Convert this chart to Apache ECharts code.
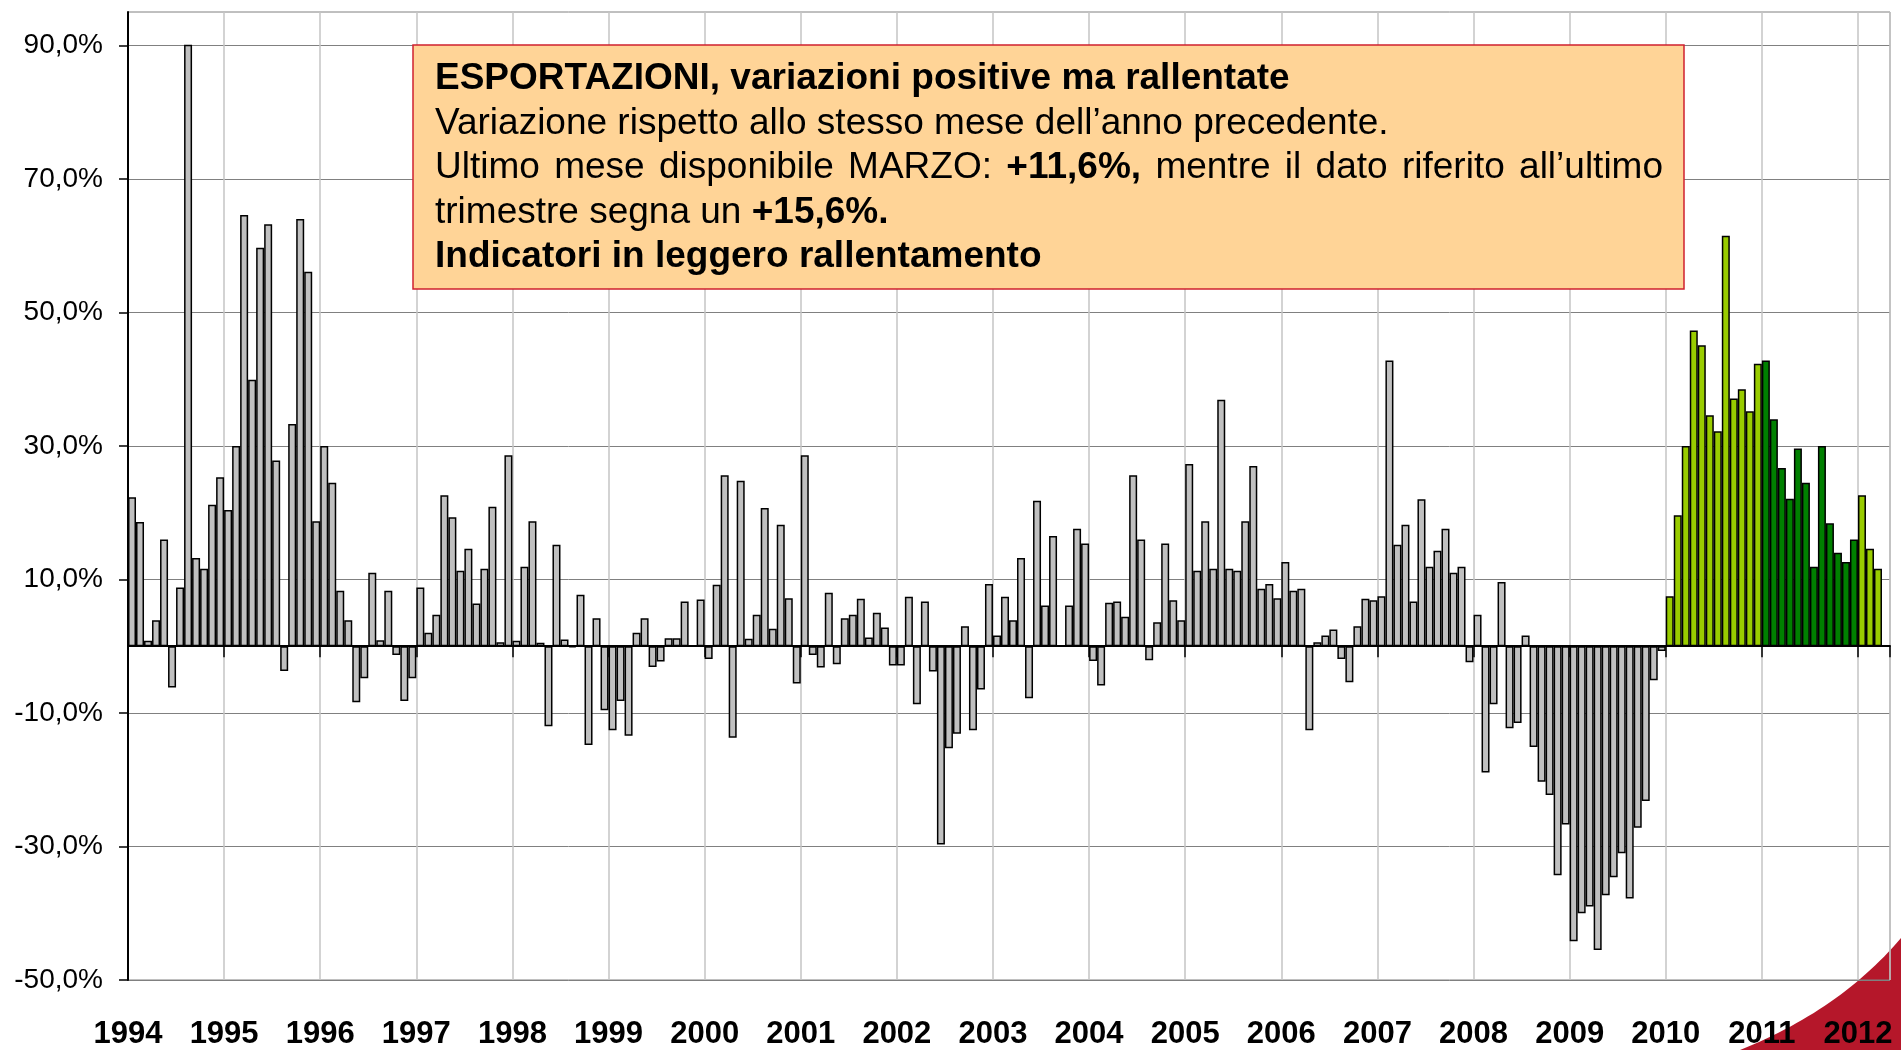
<!DOCTYPE html>
<html><head><meta charset="utf-8">
<script src="https://cdn.jsdelivr.net/npm/echarts@6/dist/echarts.min.js"></script>
<style>html,body{margin:0;padding:0;background:#fff}#c{width:1901px;height:1050px}</style>
</head><body><div id="c"></div>
<script>
// ---- DATA ----
const yearLabels = ['1994','1995','1996','1997','1998','1999','2000','2001','2002','2003','2004','2005','2006','2007','2008','2009','2010','2011','2012'];
const months = ['gen','feb','mar','apr','mag','giu','lug','ago','set','ott','nov','dic'];
const y1994 = [22.3, 18.6, 0.8, 3.9, 16.0, -6.2, 8.8, 90.1, 13.2, 11.6, 21.2, 25.3];
const y1995 = [20.4, 30.0, 64.6, 39.9, 59.7, 63.2, 27.8, -3.7, 33.3, 64.0, 56.1, 18.7];
const y1996 = [30.0, 24.5, 8.3, 3.9, -8.4, -4.8, 11.0, 0.9, 8.3, -1.3, -8.2, -4.8];
const y1997 = [8.8, 2.0, 4.7, 22.6, 19.3, 11.3, 14.6, 6.4, 11.6, 20.9, 0.6, 28.6];
const y1998 = [0.8, 11.9, 18.7, 0.5, -12.0, 15.2, 1.0, -0.2, 7.7, -14.8, 4.2, -9.6];
const y1999 = [-12.6, -8.2, -13.4, 2.0, 4.2, -3.1, -2.3, 1.2, 1.2, 6.7, 0.0, 7.0];
const y2000 = [-1.9, 9.2, 25.6, -13.7, 24.8, 1.1, 4.7, 20.7, 2.6, 18.2, 7.2, -5.6];
const y2001 = [28.6, -1.3, -3.2, 8.0, -2.7, 4.2, 4.7, 7.1, 1.3, 5.0, 2.8, -2.9];
const y2002 = [-2.9, 7.4, -8.7, 6.7, -3.8, -29.7, -15.3, -13.1, 3.0, -12.6, -6.5, 9.3];
const y2003 = [1.6, 7.4, 3.9, 13.2, -7.8, 21.8, 6.1, 16.5, 0.0, 6.1, 17.6, 15.4];
const y2004 = [-2.2, -5.9, 6.5, 6.7, 4.4, 25.6, 16.0, -2.1, 3.6, 15.4, 6.9, 3.9];
const y2005 = [27.3, 11.3, 18.7, 11.6, 36.9, 11.6, 11.3, 18.7, 27.0, 8.6, 9.3, 7.2];
const y2006 = [12.6, 8.3, 8.6, -12.6, 0.6, 1.6, 2.5, -1.9, -5.4, 3.0, 7.1, 6.9];
const y2007 = [7.5, 42.8, 15.2, 18.2, 6.7, 22.0, 11.9, 14.3, 17.6, 11.0, 11.9, -2.4];
const y2008 = [4.7, -18.9, -8.7, 9.6, -12.3, -11.5, 1.6, -15.1, -20.3, -22.3, -34.3, -26.7];
const y2009 = [-44.2, -40.0, -39.0, -45.5, -37.3, -34.6, -31.0, -37.8, -27.2, -23.2, -5.1, -0.7];
const y2010 = [7.5, 19.6, 30.0, 47.3, 45.1, 34.6, 32.2, 61.5, 37.1, 38.5, 35.2, 42.3];
const y2011 = [42.8, 34.0, 26.7, 22.1, 29.6, 24.5, 11.9, 30.0, 18.4, 14.0, 12.6, 16.0];
const y2012 = [22.6, 14.6, 11.6];
const yTicks = [-50, -30, -10, 10, 30, 50, 70, 90];
const lightGreenYears = ['2010', '2012'];
const darkGreenYears = ['2011'];

const titleLine = 'ESPORTAZIONI, variazioni positive ma rallentate';
const line2 = 'Variazione rispetto allo stesso mese dell’anno precedente.';
const line3Words = [['Ultimo','n'],['mese','n'],['disponibile','n'],['MARZO:','n'],['+11,6%,','b'],['mentre','n'],['il','n'],['dato','n'],['riferito','n'],['all’ultimo','n']];
const line4a = 'trimestre segna un ';
const line4b = '+15,6%.';
const line5 = 'Indicatori in leggero rallentamento';

// ---- BUILD ----
const FONT = '"Liberation Sans", Arial, Helvetica, sans-serif';
const GREY = '#C0C0C0', LGREEN = '#99CC00', DGREEN = '#008000';
const yearData = [y1994,y1995,y1996,y1997,y1998,y1999,y2000,y2001,y2002,y2003,y2004,y2005,y2006,y2007,y2008,y2009,y2010,y2011,y2012];
const categories = [], barData = [];
yearData.forEach((arr, i) => {
  const yr = yearLabels[i];
  const col = lightGreenYears.includes(yr) ? LGREEN : (darkGreenYears.includes(yr) ? DGREEN : GREY);
  arr.forEach((v, m) => {
    categories.push(months[m] + ' ' + yr);
    barData.push({ value: v, itemStyle: { color: col } });
  });
});
// one empty slot after the last month (axis ends one month later)
categories.push('apr 2012');
barData.push('-');
const nCat = categories.length;

const chart = echarts.init(document.getElementById('c'), null, { renderer: 'canvas' });

// text box layout
const BOX = { x: 413, y: 45, w: 1271, h: 244 };
const TX = 435, TW = 1228, FS = 37;
const lineY = [79, 123.5, 168, 212.5, 257];
const boldStyle = { fontSize: FS, fontFamily: FONT, fontWeight: 'bold', fill: '#000',
  textShadowColor: 'rgba(255,255,255,0.95)', textShadowOffsetX: 1.5, textShadowOffsetY: 1.5, textShadowBlur: 0 };
const normStyle = { fontSize: FS, fontFamily: FONT, fontWeight: 'normal', fill: '#000' };

const cv = document.createElement('canvas').getContext('2d');
function measure(t, bold) { cv.font = (bold ? 'bold ' : '') + FS + 'px ' + FONT; return cv.measureText(t).width; }
const wordW = line3Words.map(w => measure(w[0], w[1] === 'b'));
const gap = (TW - wordW.reduce((a, b) => a + b, 0)) / (line3Words.length - 1);

const graphics = [];
// decorative red swoosh (bottom-right corner)
const swoosh = [];
for (let k = 0; k <= 30; k++) {
  const t = k / 30;
  const x = (1 - t) * (1 - t) * 1740 + 2 * (1 - t) * t * 1840 + t * t * 1901;
  const y = (1 - t) * (1 - t) * 1050 + 2 * (1 - t) * t * 1010 + t * t * 938;
  swoosh.push([x, y]);
}
swoosh.push([1901, 1050]);
graphics.push({ type: 'polygon', z: -1, silent: true, shape: { points: swoosh }, style: { fill: '#B5172A' } });
graphics.push({ type: 'rect', z: 10, silent: true, shape: { x: BOX.x, y: BOX.y, width: BOX.w, height: BOX.h },
  style: { fill: '#FFD497', stroke: '#D0202F', lineWidth: 1.5 } });
function txt(x, y, text, st) {
  graphics.push({ type: 'text', z: 11, silent: true, x: x, y: y,
    style: Object.assign({ text: text, verticalAlign: 'middle', align: 'left' }, st) });
}
txt(TX, lineY[0], titleLine, boldStyle);
txt(TX, lineY[1], line2, normStyle);
let cx = TX;
line3Words.forEach((w, i) => { txt(cx, lineY[2], w[0], w[1] === 'b' ? boldStyle : normStyle); cx += wordW[i] + gap; });
txt(TX, lineY[3], line4a, normStyle);
txt(TX + measure(line4a, false), lineY[3], line4b, boldStyle);
txt(TX, lineY[4], line5, boldStyle);

const option = {
  backgroundColor: '#fff',
  animation: false,
  grid: { left: 128, right: 11, top: 12, bottom: 67, show: true, borderColor: '#808080', borderWidth: 1, backgroundColor: 'transparent' },
  xAxis: [
    {
      type: 'category', data: categories, boundaryGap: true,
      axisLine: { show: true, onZero: true, lineStyle: { color: '#000', width: 2 } },
      axisTick: { show: true, length: 11, interval: (i) => i % 12 === 0, lineStyle: { color: '#000', width: 1.5 } },
      axisLabel: { show: false }, splitLine: { show: false }, z: 5
    },
    {
      type: 'value', position: 'bottom', min: 0, max: nCat, interval: 12,
      axisLine: { show: false }, axisTick: { show: false },
      splitLine: { show: true, lineStyle: { color: '#C4C4C4', width: 1.5 } },
      axisLabel: {
        show: true, margin: 39, fontSize: 31, fontWeight: 'bold', fontFamily: FONT, color: '#000',
        showMaxLabel: false,
        formatter: (v) => (v % 12 === 0 && v / 12 < yearLabels.length) ? yearLabels[v / 12] : ''
      }
    }
  ],
  yAxis: {
    type: 'value', min: -50, max: 95, interval: 20,
    axisLine: { show: true, lineStyle: { color: '#000', width: 2 } },
    axisTick: { show: true, length: 9, customValues: yTicks, lineStyle: { color: '#000', width: 1.5 } },
    axisLabel: {
      show: true, margin: 25, fontSize: 28, fontFamily: FONT, color: '#000', customValues: yTicks,
      formatter: (v) => yTicks.includes(v) ? v.toFixed(1).replace('.', ',') + '%' : ''
    },
    splitLine: { show: true, lineStyle: { color: '#808080', width: 1 } }
  },
  series: [{
    type: 'bar', xAxisIndex: 0, yAxisIndex: 0, data: barData,
    barWidth: '100%', barCategoryGap: 0,
    itemStyle: { borderColor: '#000', borderWidth: 1.5 },
    emphasis: { disabled: true }, z: 3
  }],
  graphic: graphics
};
chart.setOption(option);
</script></body></html>
